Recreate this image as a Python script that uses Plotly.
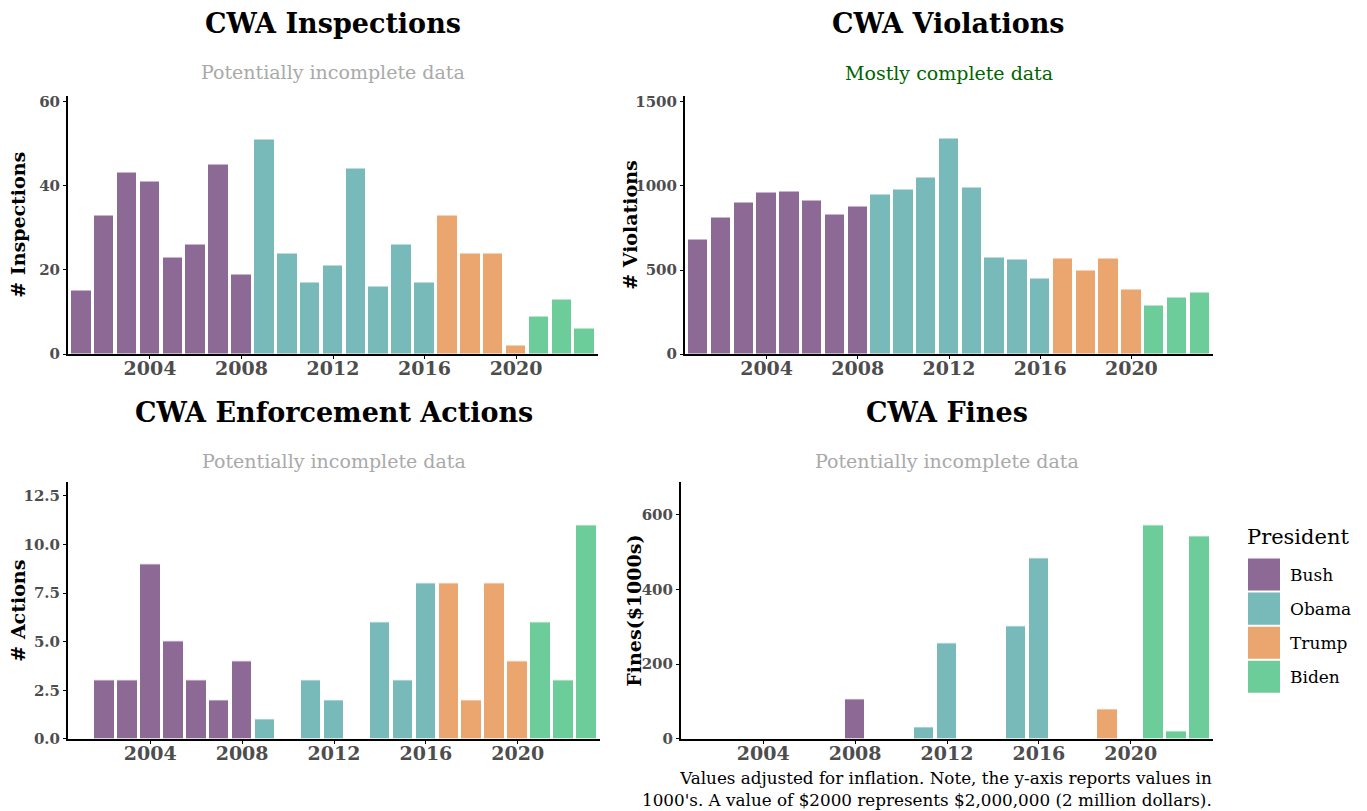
import plotly.graph_objects as go

# ---------------- data ----------------
years = list(range(2001, 2024))
president = (["Bush"] * 8) + (["Obama"] * 8) + (["Trump"] * 4) + (["Biden"] * 3)

inspections = [15, 33, 43, 41, 23, 26, 45, 19, 51, 24, 17, 21, 44, 16, 26, 17,
               33, 24, 24, 2, 9, 13, 6]
violations = [680, 810, 900, 960, 965, 915, 830, 875, 950, 980, 1050, 1280, 990,
              575, 560, 450, 570, 500, 570, 385, 290, 335, 365]
actions = [None, 3, 3, 9, 5, 3, 2, 4, 1, None, 3, 2, None, 6, 3, 8,
           8, 2, 8, 4, 6, 3, 11]
fines = [None, None, None, None, None, None, None, 105, None, None, 30, 255, None,
         None, 302, 482, None, None, 80, None, 572, 20, 542]

presidents = ["Bush", "Obama", "Trump", "Biden"]
colors = {"Bush": "#8D6A96", "Obama": "#78B9B9", "Trump": "#EBA56F", "Biden": "#6DCD9A"}

titles = ["CWA Inspections", "CWA Violations", "CWA Enforcement Actions", "CWA Fines"]
subtitles = ["Potentially incomplete data", "Mostly complete data",
             "Potentially incomplete data", "Potentially incomplete data"]
subtitle_colors = ["#A9A9A9", "#006400", "#A9A9A9", "#A9A9A9"]
ytitles = ["# Inspections", "# Violations", "# Actions", "Fines($1000s)"]
year_ticks = [2004, 2008, 2012, 2016, 2020]
ytick_sets = [[0, 20, 40, 60], [0, 500, 1000, 1500],
              [0, 2.5, 5, 7.5, 10, 12.5], [0, 200, 400, 600]]
ytick_fmt = ["{:.0f}", "{:.0f}", "{:.1f}", "{:.0f}"]
yranges = [[0, 61.4], [0, 1538], [0, 13.2], [0, 686]]
caption = ("Values adjusted for inflation. Note, the y-axis reports values in<br>"
           "1000's. A value of $2000 represents $2,000,000 (2 million dollars).")

series = [inspections, violations, actions, fines]

# ---------------- layout helpers (page pixel -> paper) ----------------
W, H = 1367, 811
def fx(p):
    return p / W
def fy(p):
    q = (p - 4.7) / 0.983
    return 1 - q / H

# panel boxes in page pixels: (left, right, top, bottom)
boxes = [(68, 598, 97, 355), (685, 1213, 97, 355),
         (68, 600, 483, 739), (681, 1213, 483, 739)]
title_y = [25, 25, 413, 413]
sub_y = [74, 75, 462, 462]
ytitle_x = [18, 630, 18, 634]

FONT = "DejaVu Serif"
fig = go.Figure()

for i, vals in enumerate(series):
    ax = "" if i == 0 else str(i + 1)
    for p in presidents:
        xs = [y for y, pr in zip(years, president) if pr == p]
        ys = [v for v, pr in zip(vals, president) if pr == p]
        fig.add_trace(go.Bar(
            x=xs, y=ys, name=p, marker_color=colors[p],
            marker_line_color="white", marker_line_width=1,
            width=0.9, showlegend=False,
            xaxis="x" + ax, yaxis="y" + ax,
        ))

layout = dict(
    width=W, height=H,
    margin=dict(l=0, r=0, t=0, b=0),
    paper_bgcolor="white", plot_bgcolor="white",
    font=dict(family=FONT, color="#000000"),
    bargap=0,
    annotations=[], shapes=[],
)

for i in range(4):
    l, r, t, b = boxes[i]
    ax = "" if i == 0 else str(i + 1)
    layout["xaxis" + ax] = dict(
        domain=[fx(l), fx(r)], anchor="y" + ax,
        range=[2000.42, 2023.58],
        tickvals=year_ticks, ticktext=[str(v) for v in year_ticks],
        showgrid=False, zeroline=False,
        showline=True, linecolor="black", linewidth=2,
        ticks="outside", ticklen=3, tickcolor="black",
        ticklabelstandoff=-7,
        tickfont=dict(family=FONT, size=19, color="#4D4D4D", weight="bold"),
    )
    layout["yaxis" + ax] = dict(
        domain=[fy(b), fy(t)], anchor="x" + ax,
        range=yranges[i],
        tickvals=ytick_sets[i],
        ticktext=[ytick_fmt[i].format(v) for v in ytick_sets[i]],
        showgrid=False, zeroline=False,
        showline=True, linecolor="black", linewidth=2,
        ticks="outside", ticklen=3, tickcolor="black",
        tickfont=dict(family=FONT, size=15, color="#4D4D4D", weight="bold"),
    )
    cx = (l + r) / 2
    layout["annotations"].append(dict(
        text="<b>" + titles[i] + "</b>", x=fx(cx), y=fy(title_y[i]),
        xref="paper", yref="paper", showarrow=False, xanchor="center", yanchor="middle",
        font=dict(family=FONT, size=27, color="black")))
    layout["annotations"].append(dict(
        text=subtitles[i], x=fx(cx), y=fy(sub_y[i]),
        xref="paper", yref="paper", showarrow=False, xanchor="center", yanchor="middle",
        font=dict(family=FONT, size=19, color=subtitle_colors[i])))
    layout["annotations"].append(dict(
        text="<b>" + ytitles[i] + "</b>", x=fx(ytitle_x[i]), y=fy((t + b) / 2),
        xref="paper", yref="paper", showarrow=False, textangle=-90,
        xanchor="center", yanchor="middle",
        font=dict(family=FONT, size=19, color="black")))

# caption
layout["annotations"].append(dict(
    text=caption, x=fx(1214), y=fy(788.5), xref="paper", yref="paper",
    showarrow=False, xanchor="right", yanchor="middle", align="right",
    font=dict(family=FONT, size=16.8, color="black")))

# custom legend
layout["annotations"].append(dict(
    text="President", x=fx(1245), y=fy(538), xref="paper", yref="paper",
    showarrow=False, xanchor="left", yanchor="middle",
    font=dict(family=FONT, size=21, color="black")))
for k, p in enumerate(presidents):
    top = 559 + k * 34
    layout["shapes"].append(dict(
        type="rect", xref="paper", yref="paper",
        x0=fx(1248), x1=fx(1280), y0=fy(top + 32), y1=fy(top),
        fillcolor=colors[p], line=dict(width=0)))
    layout["annotations"].append(dict(
        text=p, x=fx(1288), y=fy(top + 16), xref="paper", yref="paper",
        showarrow=False, xanchor="left", yanchor="middle",
        font=dict(family=FONT, size=17, color="black")))

fig.update_layout(**layout)
fig.write_html(
    "out.html",
    config={"displayModeBar": False},
    post_script="document.body.style.margin='0';document.body.style.overflow='hidden';",
)
